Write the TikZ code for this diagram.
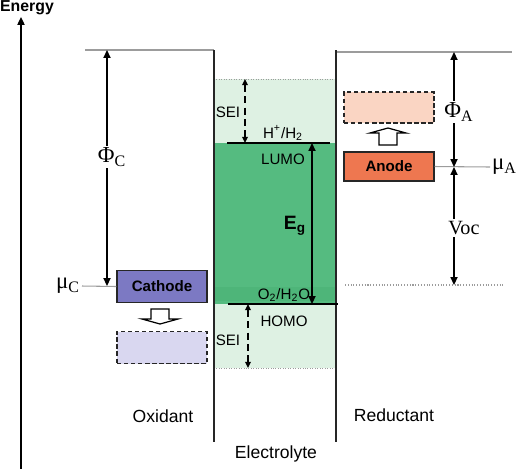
\documentclass[tikz,border=0pt]{standalone}
\usepackage{fontspec}
\setmainfont{Liberation Sans}
\newfontfamily\serifgreek{Liberation Serif}
\usetikzlibrary{arrows.meta,positioning,calc}
\definecolor{Cath}{HTML}{7C79C3}
\definecolor{CathPale}{HTML}{D9D7F0}
\definecolor{Anod}{HTML}{EE7750}
\definecolor{AnodPale}{HTML}{FAD5C3}
\definecolor{Band}{HTML}{55BB80}
\definecolor{BandDeep}{HTML}{4EB579}
\definecolor{BandPale}{HTML}{DEF1E3}
\definecolor{Rule}{HTML}{9C9C9C}

\begin{document}
\begin{tikzpicture}[x=0.02cm,y=-0.02cm,
    lbl/.style={font=\fontsize{8.6}{10}\selectfont,inner sep=1pt},
    side/.style={font=\fontsize{10}{12}\selectfont,inner sep=1pt},
    sym/.style={font=\serifgreek\fontsize{13}{15}\selectfont,inner sep=1pt},
    tipup/.style={-{Triangle[length=4.5pt,width=4pt]}},
    tipboth/.style={{Triangle[length=4.5pt,width=4pt]}-{Triangle[length=4.5pt,width=4pt]}},
    seiarrow/.style={{Triangle[length=3.5pt,width=3.2pt]}-{Triangle[length=3.5pt,width=3.2pt]},dashed,dash pattern=on 4pt off 2.5pt,line width=0.9pt},
    electrode/.style={draw=black!85,line width=0.8pt,minimum width=1.8cm,minimum height=0.64cm,
      font=\bfseries\fontsize{8.6}{10}\selectfont},
    ghost/.style={electrode,dashed,dash pattern=on 2.5pt off 1.5pt,line width=1pt}]
  \useasboundingbox (0,0) rectangle (520,468);

  % electrolyte window
  \fill[BandPale] (214,79) rectangle (336,368);
  \fill[Band] (214,143) rectangle (336,304);
  \fill[BandDeep] (214,287) rectangle (336,301);
  \draw[Rule,densely dotted] (214,79) -- (336,79);
  \draw[Rule,densely dotted] (214,368) -- (336,368);

  % energy axis
  \coordinate (ebot) at (21,470);
  \coordinate (etop) at (21,17);
  \draw[tipup,line width=1.1pt] (ebot) -- (etop);
  \node[font=\bfseries\fontsize{9}{10}\selectfont,inner sep=0pt] (energy) at (27,8) {Energy};

  % reference levels
  \draw[Rule,line width=0.6pt] (85,50) -- (214,50);
  \draw[Rule,line width=0.6pt] (336,52) -- (512,52);
  \draw[Rule,densely dotted,line width=0.6pt] (345,285) -- (504,285);

  % phase walls
  \draw[black!85,line width=0.9pt] (214,50) -- (214,442);
  \draw[black!85,line width=0.9pt] (336,50) -- (336,442);

  % electrodes
  \node[electrode,fill=Cath] (cathode) at (162,286.5) {Cathode};
  \node[ghost,fill=CathPale] (cathodeold) at (162,347.5) {};
  \node[electrode,fill=Anod,minimum height=0.58cm] (anode) at (389,166.5) {Anode};
  \node[ghost,fill=AnodPale,minimum height=0.62cm] (anodeold) at (389,107.5) {};

  \draw[fill=white,line width=0.7pt] (151,309) -- (169,309) -- (169,319) -- (178,319) -- (160,324)
    -- (142,319) -- (151,319) -- cycle;
  \draw[fill=white,line width=0.7pt] (379,145) -- (397,145) -- (397,133) -- (406,133) -- (388,128)
    -- (370,133) -- (379,133) -- cycle;

  % chemical potentials
  \coordinate (muCend) at (82,286);
  \draw[Rule,line width=0.6pt] (cathode.west) -- (muCend);
  \node[sym,anchor=east] (muC) at (muCend) {μ\textsubscript{C}};
  \coordinate (muAend) at (490,167);
  \draw[Rule,line width=0.6pt] (anode.east) -- (muAend);
  \node[sym,anchor=west] (muA) at (muAend) {μ\textsubscript{A}};

  % work functions and voltage
  \coordinate (phiCtop) at (107,50);
  \coordinate (phiCbot) at (107,286);
  \draw[tipboth,line width=0.9pt] (phiCbot) -- (phiCtop);
  \node[sym,fill=white] (phiC) at (112,157) {Φ\textsubscript{C}};

  \coordinate (phiAtop) at (454,52);
  \coordinate (phiAbot) at (454,167);
  \coordinate (vocbot) at (454,285);
  \draw[tipboth,line width=0.9pt] (phiAbot) -- (phiAtop);
  \node[sym,fill=white] (phiA) at (459,112) {Φ\textsubscript{A}};
  \draw[tipboth,line width=0.9pt] (phiAbot) -- (vocbot);
  \node[sym,fill=white,font=\serifgreek\fontsize{11.5}{13}\selectfont] (voc) at (464,228) {Voc};

  % electrolyte levels
  \coordinate (lumoL) at (227,143);
  \coordinate (lumoR) at (330,143);
  \coordinate (homoL) at (228,304);
  \coordinate (homoR) at (338,304);
  \coordinate (gaptop) at (312,143);
  \coordinate (gapbot) at (312,304);
  \draw[line width=0.9pt] (lumoL) -- (lumoR);
  \draw[line width=0.9pt] (homoL) -- (homoR);
  \draw[tipboth,line width=0.9pt] (gaptop) -- (gapbot);
  \coordinate (seiTtop) at (245,79);
  \coordinate (seiTbot) at (245,143);
  \coordinate (seiBtop) at (248,304);
  \coordinate (seiBbot) at (248,368);
  \draw[seiarrow] (seiTtop) -- (seiTbot);
  \draw[seiarrow] (seiBtop) -- (seiBbot);

  \node[lbl] (seitop) at (228,112) {SEI};
  \node[lbl] (seibot) at (228,340) {SEI};
  \node[lbl] (hh) at (283,133) {H\textsuperscript{+}/H\textsubscript{2}};
  \node[lbl] (lumo) at (283,159) {LUMO};
  \node[font=\bfseries\fontsize{11}{13}\selectfont] (eg) at (295,226) {E\textsubscript{g}};
  \node[lbl] (oh) at (284,295) {O\textsubscript{2}/H\textsubscript{2}O};
  \node[lbl] (homo) at (284,321) {HOMO};

  % phase names
  \node[side] (oxid) at (163,416) {Oxidant};
  \node[side] (redu) at (394,415) {Reductant};
  \node[side] (elec) at (276,454) {Electrolyte};
\end{tikzpicture}
\end{document}
